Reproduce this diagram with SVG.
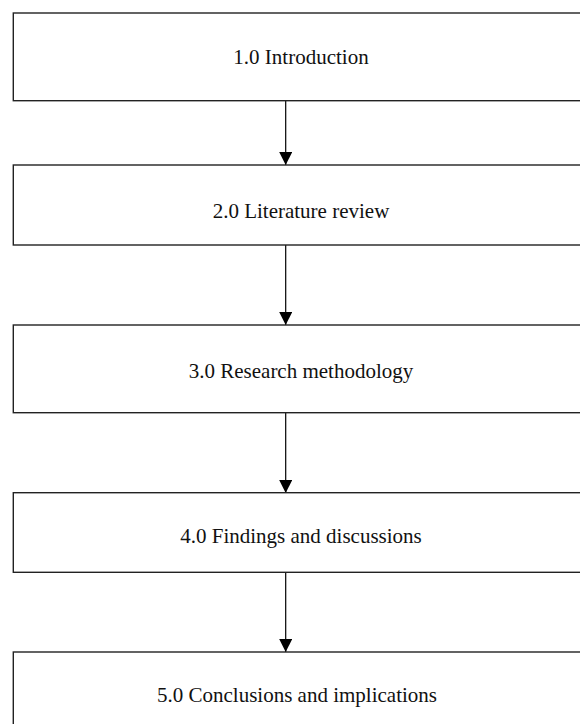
<svg xmlns="http://www.w3.org/2000/svg" width="580" height="724" viewBox="0 0 580 724">
  <style>
    .box { fill: #ffffff; stroke: #222222; stroke-width: 1.4; }
    .label { font-family: "Liberation Serif", "Times New Roman", serif; font-size: 21px; fill: #111111; text-anchor: middle; }
    .conn { stroke: #000000; stroke-width: 1.2; fill: none; marker-end: url(#arrow); }
  </style>
  <defs>
    <marker id="arrow" markerWidth="13" markerHeight="13" refX="13" refY="6.5" orient="auto" markerUnits="userSpaceOnUse">
      <path d="M0,0 L13,6.5 L0,13 Z" fill="#000000"/>
    </marker>
  </defs>
  <rect width="580" height="724" fill="#ffffff"/>

  <g id="connectors">
    <line class="conn" x1="285.7" y1="101" x2="285.7" y2="165"/>
    <line class="conn" x1="285.7" y1="245" x2="285.7" y2="325"/>
    <line class="conn" x1="285.7" y1="413" x2="285.7" y2="493"/>
    <line class="conn" x1="285.7" y1="572" x2="285.7" y2="652"/>
  </g>

  <g id="n1">
    <rect class="box" x="13.3" y="13" width="590" height="87.7"/>
    <text class="label" x="301" y="64">1.0 Introduction</text>
  </g>
  <g id="n2">
    <rect class="box" x="13.3" y="165" width="590" height="80"/>
    <text class="label" x="301" y="218">2.0 Literature review</text>
  </g>
  <g id="n3">
    <rect class="box" x="13.3" y="325" width="590" height="87.7"/>
    <text class="label" x="301" y="378">3.0 Research methodology</text>
  </g>
  <g id="n4">
    <rect class="box" x="13.3" y="492.7" width="590" height="79.6"/>
    <text class="label" x="301" y="543">4.0 Findings and discussions</text>
  </g>
  <g id="n5">
    <rect class="box" x="13.3" y="652" width="590" height="90"/>
    <text class="label" x="297" y="702">5.0 Conclusions and implications</text>
  </g>
</svg>
